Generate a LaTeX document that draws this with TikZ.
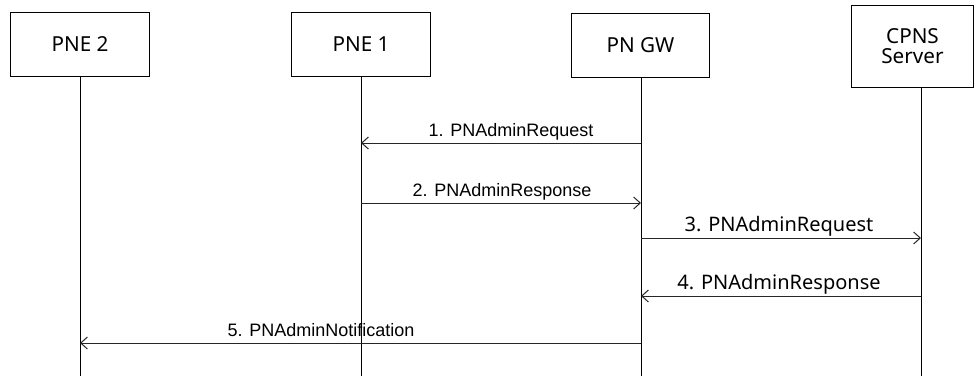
\documentclass[tikz,border=0pt]{standalone}
\usepackage{fontspec}
\setmainfont{Liberation Sans}
\newfontfamily\boxfont{Noto Sans}
\usetikzlibrary{arrows.meta}
\tikzset{
  entity/.style={draw=black, line width=0.75pt, fill=white, minimum width=104pt, minimum height=48pt, inner sep=0pt, font=\boxfont\fontsize{15.5}{17}\selectfont, align=center},
  lifeline/.style={draw=black, line width=0.75pt},
  msg/.style={draw=black!85, line width=0.75pt, -{Straight Barb[length=5pt,width=9pt,line width=0.75pt]}},
  msglabel/.style={inner sep=0pt, anchor=base, font=\fontsize{13.5}{16}\selectfont},
  msglabelb/.style={inner sep=0pt, anchor=base, font=\boxfont\fontsize{15}{17}\selectfont}
}
\begin{document}
\begin{tikzpicture}[x=0.75pt,y=-0.75pt]
\useasboundingbox (0,0) rectangle (975,376);
% entities
\node[entity] (pne2) at (80,44) {PNE 2};
\node[entity] (pne1) at (361,44) {PNE 1};
\node[entity] (gw) at (640.5,45) {PN GW};
\node[entity, minimum width=92pt, minimum height=61pt] (cpns) at (912.5,46.5) {CPNS\\[-2pt]Server};
% lifeline ends
\coordinate (e2) at (80,376);
\coordinate (e1) at (361,376);
\coordinate (eg) at (641,376);
\coordinate (ec) at (921,376);
\draw[lifeline] (pne2.south) -- (e2);
\draw[lifeline] (pne1.south) -- (e1);
\draw[lifeline] (gw.south -| eg) -- (eg);
\draw[lifeline] (cpns.south -| ec) -- (ec);
% message points
\coordinate (g1) at (641,143); \coordinate (p1) at (361,143);
\coordinate (p2) at (361,203); \coordinate (g2) at (641,203);
\coordinate (g3) at (641,238); \coordinate (c3) at (921,238);
\coordinate (c4) at (921,296); \coordinate (g4) at (641,296);
\coordinate (g5) at (641,343); \coordinate (q5) at (80,343);
\draw[msg] (g1) -- (p1);
\draw[msg] (p2) -- (g2);
\draw[msg] (g3) -- (c3);
\draw[msg] (c4) -- (g4);
\draw[msg] (g5) -- (q5);
% labels
\node[msglabel] (l1) at (511,136) {1. PNAdminRequest};
\node[msglabel] (l2) at (502,196) {2. PNAdminResponse};
\node[msglabelb] (l3) at (779,231) {3. PNAdminRequest};
\node[msglabelb] (l4) at (779,289) {4. PNAdminResponse};
\node[msglabel] (l5) at (321,336) {5. PNAdminNotification};
\end{tikzpicture}
\end{document}
